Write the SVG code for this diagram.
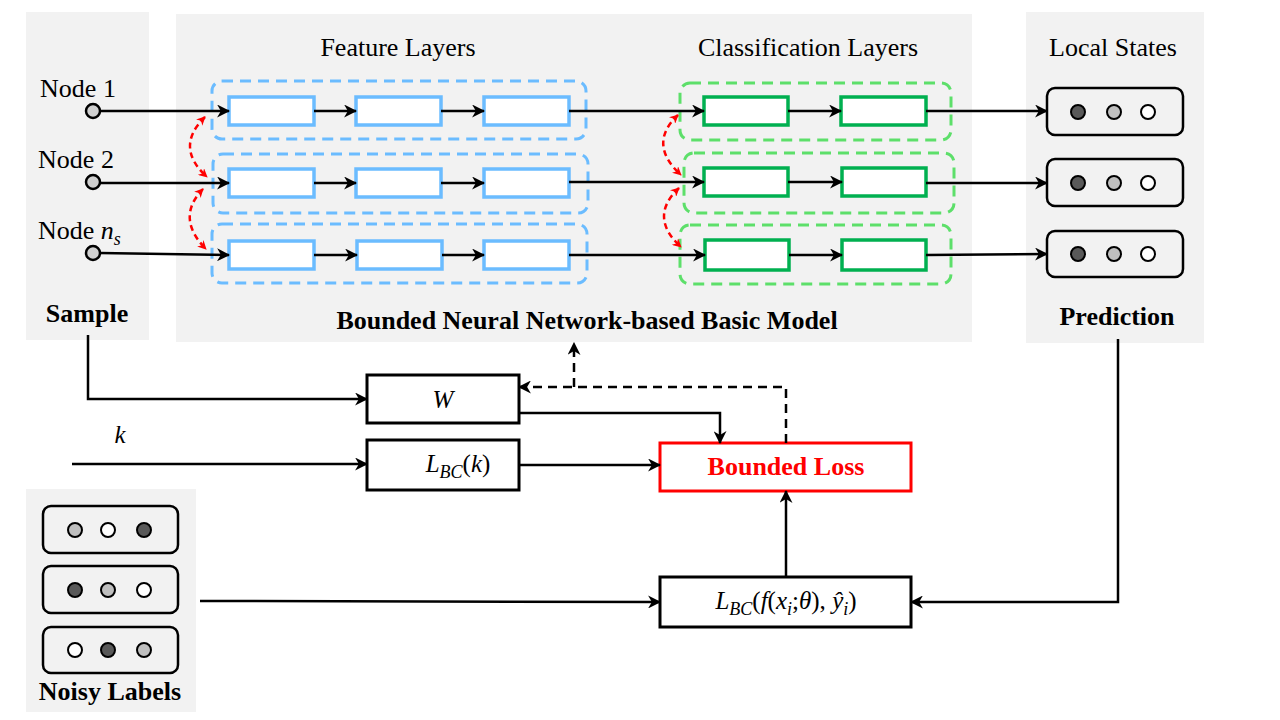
<svg xmlns="http://www.w3.org/2000/svg" width="1280" height="720" viewBox="0 0 1280 720">
<defs>
<style>
.panel{fill:#f2f2f2;stroke:none}
.lbl{font-family:'Liberation Serif','Tinos','Times New Roman','DejaVu Serif','Noto Serif',serif;font-size:26px;fill:#000}
.bold{font-weight:bold}
.math{font-family:'Liberation Serif','Tinos','Times New Roman','DejaVu Serif','Noto Serif',serif;font-size:25px;fill:#000}
.it{font-style:italic}
.sub{font-size:18px;font-style:italic}
.blue{fill:#fff;stroke:#6bbcff;stroke-width:3.5}
.green{fill:#fff;stroke:#00b050;stroke-width:3.5}
.bdash{fill:none;stroke:#6bbcff;stroke-width:3;stroke-dasharray:11,7}
.gdash{fill:none;stroke:#5ddf6a;stroke-width:3;stroke-dasharray:11,7}
.ln{fill:none;stroke:#000;stroke-width:2.5}
.dl{fill:none;stroke:#000;stroke-width:2.5;stroke-dasharray:9,6}
.rd{fill:none;stroke:#ff0000;stroke-width:2.5;stroke-dasharray:6,4}
.box{fill:#fff;stroke:#000;stroke-width:3}
.st{fill:none;stroke:#000;stroke-width:2.5}
.dk{fill:#595959;stroke:#000;stroke-width:2}
.md{fill:#bfbfbf;stroke:#000;stroke-width:2}
.wt{fill:#fff;stroke:#000;stroke-width:2}
.nd{fill:#d0d0d0;stroke:#000;stroke-width:2.5}
</style>
<marker id="ah" viewBox="0 0 12 12" refX="11" refY="6" markerWidth="13" markerHeight="13" markerUnits="userSpaceOnUse" orient="auto-start-reverse">
<path d="M0,0 L12,6 L0,12 L3.5,6 z" fill="#000"/>
</marker>
<marker id="rh" viewBox="0 0 10 10" refX="9" refY="5" markerWidth="9" markerHeight="9" markerUnits="userSpaceOnUse" orient="auto-start-reverse">
<path d="M0,0 L10,5 L0,10 L3,5 z" fill="#ff0000"/>
</marker>
</defs>
<rect width="1280" height="720" fill="#fff"/>

<g id="panels">
<rect class="panel" x="26" y="12" width="123" height="328"/>
<rect class="panel" x="176" y="14" width="796" height="328"/>
<rect class="panel" x="1026" y="12" width="178" height="331"/>
<rect class="panel" x="26" y="489" width="170" height="223"/>
</g>

<g id="titles">
<text class="lbl" x="398" y="56" text-anchor="middle">Feature Layers</text>
<text class="lbl" x="808" y="56" text-anchor="middle">Classification Layers</text>
<text class="lbl" x="1113" y="56" text-anchor="middle">Local States</text>
<text class="lbl bold" x="87" y="322" text-anchor="middle">Sample</text>
<text class="lbl bold" x="587" y="329" text-anchor="middle">Bounded Neural Network-based Basic Model</text>
<text class="lbl bold" x="1117" y="325" text-anchor="middle">Prediction</text>
<text class="lbl bold" x="110" y="700" text-anchor="middle">Noisy Labels</text>
</g>

<g id="sample-nodes">
<text class="lbl" x="78" y="97" text-anchor="middle">Node 1</text>
<text class="lbl" x="76" y="168" text-anchor="middle">Node 2</text>
<text class="lbl" x="38" y="239">Node <tspan font-style="italic">n</tspan><tspan class="sub" dy="6">s</tspan></text>
<circle class="nd" cx="93" cy="111" r="7"/>
<circle class="nd" cx="93" cy="182" r="7"/>
<circle class="nd" cx="93" cy="253" r="7"/>
</g>

<g id="feature-layers">
<rect class="bdash" x="212" y="81" width="374" height="58" rx="10"/>
<rect class="bdash" x="213" y="154" width="375" height="59" rx="10"/>
<rect class="bdash" x="212" y="224" width="375" height="59" rx="10"/>
<rect class="blue" x="229" y="97" width="85" height="28"/>
<rect class="blue" x="356" y="97" width="85" height="28"/>
<rect class="blue" x="484" y="97" width="85" height="28"/>
<rect class="blue" x="229" y="169" width="85" height="28"/>
<rect class="blue" x="356" y="169" width="85" height="28"/>
<rect class="blue" x="484" y="169" width="85" height="28"/>
<rect class="blue" x="229" y="241" width="85" height="28"/>
<rect class="blue" x="357" y="241" width="85" height="28"/>
<rect class="blue" x="484" y="241" width="85" height="28"/>
</g>

<g id="classification-layers">
<rect class="gdash" x="680" y="83" width="271" height="57" rx="10"/>
<rect class="gdash" x="684" y="153" width="270" height="60" rx="10"/>
<rect class="gdash" x="680" y="225" width="271" height="59" rx="10"/>
<rect class="green" x="704" y="97" width="84" height="28"/>
<rect class="green" x="841" y="97" width="85" height="28"/>
<rect class="green" x="704" y="168" width="84" height="28"/>
<rect class="green" x="842" y="168" width="84" height="28"/>
<rect class="green" x="705" y="240" width="84" height="30"/>
<rect class="green" x="842" y="240" width="84" height="30"/>
</g>

<g id="local-states">
<rect class="st" x="1047" y="88" width="136" height="47" rx="8"/>
<circle class="dk" cx="1078" cy="112" r="7"/><circle class="md" cx="1114" cy="112" r="7"/><circle class="wt" cx="1148" cy="112" r="7"/>
<rect class="st" x="1047" y="159" width="136" height="47" rx="8"/>
<circle class="dk" cx="1078" cy="183" r="7"/><circle class="md" cx="1114" cy="183" r="7"/><circle class="wt" cx="1148" cy="183" r="7"/>
<rect class="st" x="1047" y="231" width="136" height="46" rx="8"/>
<circle class="dk" cx="1078" cy="254" r="7"/><circle class="md" cx="1114" cy="254" r="7"/><circle class="wt" cx="1148" cy="254" r="7"/>
</g>

<g id="noisy-labels">
<rect class="st" x="43" y="506" width="135" height="47" rx="8"/>
<circle class="md" cx="75" cy="530" r="7"/><circle class="wt" cx="108" cy="530" r="7"/><circle class="dk" cx="144" cy="530" r="7"/>
<rect class="st" x="43" y="566" width="135" height="47" rx="8"/>
<circle class="dk" cx="75" cy="590" r="7"/><circle class="md" cx="108" cy="590" r="7"/><circle class="wt" cx="144" cy="590" r="7"/>
<rect class="st" x="43" y="627" width="135" height="46" rx="8"/>
<circle class="wt" cx="75" cy="650" r="7"/><circle class="dk" cx="108" cy="650" r="7"/><circle class="md" cx="144" cy="650" r="7"/>
</g>

<g id="node-W">
<rect class="box" x="367" y="375" width="152" height="48"/>
<text class="math it" x="443" y="408" text-anchor="middle">W</text>
</g>
<g id="node-LBCk">
<rect class="box" x="367" y="440" width="152" height="50"/>
<text class="math" x="458" y="472" text-anchor="middle"><tspan font-style="italic">L</tspan><tspan class="sub" dy="6">BC</tspan><tspan dy="-6">(</tspan><tspan font-style="italic">k</tspan>)</text>
</g>
<g id="node-bounded-loss">
<rect x="660" y="443" width="251" height="48" fill="#fff" stroke="#ff0000" stroke-width="3"/>
<text class="lbl bold" x="786" y="475" text-anchor="middle" style="fill:#ff0000">Bounded Loss</text>
</g>
<g id="node-LBC-f">
<rect class="box" x="660" y="577" width="251" height="50"/>
<text class="math" x="786" y="609" text-anchor="middle"><tspan font-style="italic">L</tspan><tspan class="sub" dy="6">BC</tspan><tspan dy="-6">(</tspan><tspan font-style="italic">f</tspan>(<tspan font-style="italic">x</tspan><tspan class="sub" dy="6">i</tspan><tspan dy="-6">;</tspan><tspan font-style="italic">θ</tspan>), <tspan font-style="italic">ŷ</tspan><tspan class="sub" dy="6">i</tspan><tspan dy="-6">)</tspan></text>
</g>
<text class="math it" x="120" y="443" text-anchor="middle">k</text>

<g id="connectors">
<line class="ln" x1="100" y1="111" x2="229" y2="111" marker-end="url(#ah)"/>
<line class="ln" x1="314" y1="111" x2="356" y2="111" marker-end="url(#ah)"/>
<line class="ln" x1="441" y1="111" x2="484" y2="111" marker-end="url(#ah)"/>
<line class="ln" x1="569" y1="111" x2="704" y2="111" marker-end="url(#ah)"/>
<line class="ln" x1="788" y1="111" x2="841" y2="111" marker-end="url(#ah)"/>
<line class="ln" x1="926" y1="111" x2="1047" y2="111" marker-end="url(#ah)"/>

<line class="ln" x1="100" y1="183" x2="229" y2="183" marker-end="url(#ah)"/>
<line class="ln" x1="314" y1="183" x2="356" y2="183" marker-end="url(#ah)"/>
<line class="ln" x1="441" y1="183" x2="484" y2="183" marker-end="url(#ah)"/>
<line class="ln" x1="569" y1="182" x2="704" y2="182" marker-end="url(#ah)"/>
<line class="ln" x1="788" y1="182" x2="842" y2="182" marker-end="url(#ah)"/>
<line class="ln" x1="926" y1="183" x2="1047" y2="183" marker-end="url(#ah)"/>

<line class="ln" x1="100" y1="253" x2="229" y2="255" marker-end="url(#ah)"/>
<line class="ln" x1="314" y1="255" x2="357" y2="255" marker-end="url(#ah)"/>
<line class="ln" x1="442" y1="255" x2="484" y2="255" marker-end="url(#ah)"/>
<line class="ln" x1="569" y1="255" x2="705" y2="255" marker-end="url(#ah)"/>
<line class="ln" x1="789" y1="255" x2="842" y2="255" marker-end="url(#ah)"/>
<line class="ln" x1="926" y1="255" x2="1047" y2="254" marker-end="url(#ah)"/>

<path class="rd" d="M205,117 Q174,147 207,177" marker-start="url(#rh)" marker-end="url(#rh)"/>
<path class="rd" d="M203,189 Q175,218 206,249" marker-start="url(#rh)" marker-end="url(#rh)"/>
<path class="rd" d="M678,115 Q647,144 681,175" marker-start="url(#rh)" marker-end="url(#rh)"/>
<path class="rd" d="M679,188 Q648,217 681,247" marker-start="url(#rh)" marker-end="url(#rh)"/>

<path class="ln" d="M88,335 V399 H367" marker-end="url(#ah)"/>
<line class="ln" x1="72" y1="464" x2="367" y2="464" marker-end="url(#ah)"/>
<path class="ln" d="M519,413 H720 V443" marker-end="url(#ah)"/>
<line class="ln" x1="519" y1="465" x2="660" y2="465" marker-end="url(#ah)"/>
<line class="ln" x1="786" y1="577" x2="786" y2="491" marker-end="url(#ah)"/>
<line class="ln" x1="200" y1="601" x2="660" y2="602" marker-end="url(#ah)"/>
<path class="ln" d="M1118,339 V602 H911" marker-end="url(#ah)"/>
<path class="dl" d="M786,443 V387 H519" marker-end="url(#ah)"/>
<path class="dl" d="M574,387 V343" marker-end="url(#ah)"/>
</g>
</svg>
